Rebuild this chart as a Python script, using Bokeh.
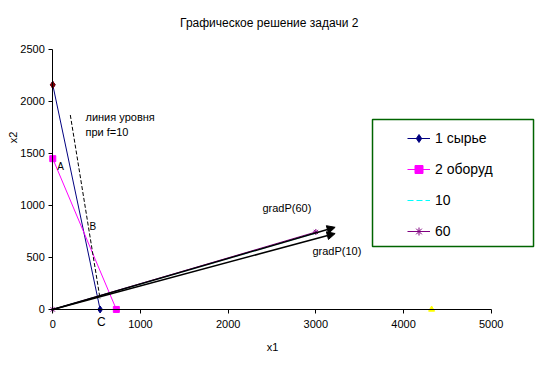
from bokeh.plotting import figure
from bokeh.models import (Range1d, FixedTicker, Label, Legend, LegendItem,
                          Arrow, NormalHead, BoxAnnotation)
from bokeh.embed import file_html
from bokeh.resources import INLINE

FONT = "Liberation Sans"

# ---- data ----
syr_x = [0, 540]          # 1 сырье
syr_y = [2160, 0]
obor_x = [0, 725]         # 2 оборуд
obor_y = [1450, 0]
s10_x = [0, 3000]         # 10
s10_y = [0, 735]
s60_x = [0, 3000]         # 60
s60_y = [0, 745]
top_pt_x = [0]            # extra point (maroon)
top_pt_y = [2160]
far_pt_x = [4320]         # extra point (yellow)
far_pt_y = [0]
level_x = [200, 540]      # линия уровня при f=10
level_y = [1870, 100]
grad60_x = [0, 3220]
grad60_y = [0, 790]
grad10_x = [0, 3220]
grad10_y = [0, 730]
x_ticks = [0, 1000, 2000, 3000, 4000, 5000]
y_ticks = [0, 500, 1000, 1500, 2000, 2500]

W, H = 536, 370
p = figure(width=W, height=H, output_backend="svg", toolbar_location=None,
           x_range=Range1d(-596, 5516), y_range=Range1d(-587, 2971),
           min_border_left=0, min_border_right=0, min_border_top=0,
           min_border_bottom=0)
p.outline_line_color = None
p.grid.visible = False

for ax, ticks in ((p.xaxis[0], x_ticks), (p.yaxis[0], y_ticks)):
    ax.ticker = FixedTicker(ticks=ticks)
    ax.bounds = (0, ticks[-1])
    ax.fixed_location = 0
    ax.minor_tick_line_color = None
    ax.major_tick_in = 0
    ax.major_tick_out = 4
    ax.axis_line_color = "black"
    ax.major_tick_line_color = "black"
    ax.major_label_text_font = FONT
    ax.major_label_text_font_size = "11px"
    ax.major_label_text_color = "black"
p.xaxis[0].major_label_standoff = 7
p.yaxis[0].major_label_standoff = 4

# series
r1l = p.line(syr_x, syr_y, line_color="#000080", line_width=1)
r1m = p.scatter(syr_x, syr_y, marker="diamond", size=7, color="#000080")
r2l = p.line(obor_x, obor_y, line_color="#FF00FF", line_width=1)
r2m = p.scatter(obor_x, obor_y, marker="square", size=6, color="#FF00FF")
r3l = p.line(s10_x, s10_y, line_color="#00FFFF", line_width=1, line_dash="6 3")
r4l = p.line(s60_x, s60_y, line_color="#800080", line_width=1)
r4m = p.scatter(s60_x, s60_y, marker="asterisk", size=6, line_color="#800080")
p.scatter(top_pt_x, top_pt_y, marker="diamond", size=7, color="#800000")
p.scatter(far_pt_x, far_pt_y, marker="triangle", size=6, color="#FFFF00")

# level line
p.line(level_x, level_y, line_color="black", line_width=1, line_dash="4 2")

# gradient arrows
for gx, gy in ((grad60_x, grad60_y), (grad10_x, grad10_y)):
    p.add_layout(Arrow(end=NormalHead(size=8, fill_color="black", line_color="black"),
                       x_start=gx[0], y_start=gy[0], x_end=gx[1], y_end=gy[1],
                       line_color="black", line_width=1.5))

def lab(x, y, text, size="11px", align="left", angle=0.0):
    p.add_layout(Label(x=x, y=y, text=text, text_font=FONT, text_font_size=size,
                       text_align=align, text_baseline="middle", angle=angle,
                       text_color="black"))

lab(2468, 2755, "Графическое решение задачи 2", size="12px", align="center")
lab(2505, -365, "x1", align="center")
lab(-448, 1654, "x2", align="center", angle=1.5708)
lab(373, 1846, "линия уровня")
lab(373, 1711, "при f=10")
lab(88, 1375, "A", size="10px", align="center")
lab(458, 798, "B", size="10px", align="center")
lab(555, -125, "C", size="12px", align="center")
lab(2391, 976, "gradP(60)")
lab(2961, 558, "gradP(10)")

# legend frame
p.add_layout(BoxAnnotation(left=3646, right=5482, top=1827, bottom=606,
                           fill_alpha=0, line_color="#006400", line_alpha=1.0,
                           line_width=1.5))
legend = Legend(items=[LegendItem(label="1 сырье", renderers=[r1l, r1m]),
                       LegendItem(label="2 оборуд", renderers=[r2l, r2m]),
                       LegendItem(label="10", renderers=[r3l]),
                       LegendItem(label="60", renderers=[r4l, r4m])],
                location=(407, 129), padding=0, margin=0, spacing=11,
                glyph_width=23, glyph_height=20, label_height=20,
                label_standoff=5, border_line_color=None,
                background_fill_alpha=0, label_text_font=FONT,
                label_text_font_size="14px", label_text_color="black")
p.add_layout(legend)

open("out.html", "w").write(file_html(p, INLINE))
